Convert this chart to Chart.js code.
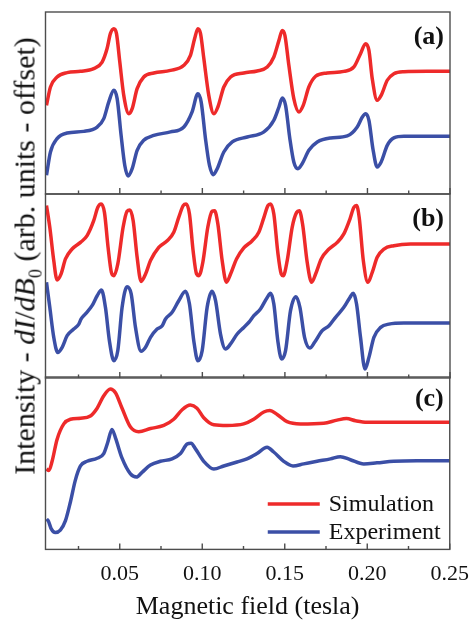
<!DOCTYPE html>
<html>
<head>
<meta charset="utf-8">
<script src="https://cdn.jsdelivr.net/npm/chart.js@4.4.0/dist/chart.umd.min.js"></script>
<style>
  body { margin: 0; background: #fff; }
  #wrap { position: relative; width: 473px; height: 622px; overflow: hidden; background: #fff; }
  canvas { position: absolute; left: 0; }
  #ylab {
    position: absolute; left: 27px; top: 256px;
    transform: translate(-50%, -50%) rotate(-90deg);
    white-space: nowrap; font: 30px "Liberation Serif", serif; color: #111;
  }
  #ylab sub { font-size: 60%; }
</style>
</head>
<body>
<div id="wrap">
  <canvas id="pa" width="473" height="200" style="top:0"></canvas>
  <canvas id="pb" width="473" height="196" style="top:188px"></canvas>
  <canvas id="pc" width="473" height="252" style="top:371px"></canvas>
  <div id="ylab">Intensity - <i>dI</i>/<i>dB</i><sub>0</sub> (arb. units - offset)</div>
</div>
<script>
// x axis (tesla)
const fieldMin = 0.005, fieldMax = 0.25;
const tickValues = [0.05, 0.10, 0.15, 0.20, 0.25];
const minorTickValues = [0.025, 0.075, 0.125, 0.175, 0.225];
const seriesNames = ['Simulation', 'Experiment'];
const seriesColors = ['#ee2a2a', '#3b4fa6'];

// panel (a)
const simA_B = [0.0056,0.0080,0.0120,0.0181,0.0262,0.0342,0.0393,0.0423,0.0443,0.0464,0.0480,0.0500,0.0524,0.0555,0.0575,0.0605,0.0645,0.0706,0.0807,0.0888,0.0928,0.0953,0.0973,0.0989,0.1009,0.1039,0.1070,0.1094,0.1130,0.1171,0.1251,0.1332,0.1393,0.1433,0.1464,0.1484,0.1500,0.1524,0.1554,0.1585,0.1611,0.1645,0.1686,0.1756,0.1857,0.1918,0.1958,0.1989,0.2009,0.2029,0.2059,0.2083,0.2120,0.2160,0.2221,0.2363,0.25];
const simA_I = [48.7,58.8,64.3,66.7,67.4,68.9,72.5,79.9,88.1,90.8,88.1,72.5,54.2,44.1,46.9,57.9,64.3,66.5,67.9,70.7,76.2,85.3,90.8,88.1,74.4,54.2,44.1,47.8,58.8,64.3,66.5,67.6,69.8,75.3,84.4,89.9,87.2,70.7,52.4,45.1,48.7,58.8,64.7,66.5,67.4,69.8,77.1,82.6,78.9,63.4,51.5,54.2,62.5,66.1,67.2,67.4,67.4];
const expA_B = [0.0056,0.0080,0.0120,0.0181,0.0282,0.0363,0.0403,0.0433,0.0464,0.0484,0.0508,0.0530,0.0550,0.0575,0.0605,0.0645,0.0706,0.0807,0.0888,0.0938,0.0973,0.0993,0.1019,0.1043,0.1066,0.1090,0.1130,0.1181,0.1272,0.1373,0.1433,0.1464,0.1484,0.1504,0.1530,0.1554,0.1579,0.1605,0.1645,0.1696,0.1777,0.1878,0.1938,0.1969,0.1989,0.2009,0.2033,0.2059,0.2083,0.2120,0.2160,0.2221,0.25];
const expA_I = [10.3,23.1,30.4,33.5,34.4,36.8,41.4,50.5,57.0,52.4,32.2,15.8,9.9,13.9,24.0,29.5,32.2,34.1,36.8,45.1,55.1,50.5,30.4,15.8,10.6,13.9,23.1,28.6,31.3,34.1,40.5,47.8,52.7,48.7,30.4,17.6,13.9,16.7,24.0,28.6,30.8,31.9,36.8,42.3,44.1,40.5,24.9,14.8,17.6,26.7,30.8,31.7,31.7];

// panel (b)
const simB_B = [0.0056,0.0076,0.0100,0.0120,0.0144,0.0171,0.0211,0.0262,0.0302,0.0342,0.0367,0.0387,0.0407,0.0429,0.0449,0.0464,0.0488,0.0520,0.0544,0.0561,0.0581,0.0605,0.0629,0.0656,0.0686,0.0736,0.0787,0.0827,0.0857,0.0884,0.0902,0.0922,0.0944,0.0965,0.0979,0.1003,0.1033,0.1059,0.1074,0.1094,0.1120,0.1146,0.1171,0.1207,0.1251,0.1302,0.1342,0.1373,0.1397,0.1413,0.1433,0.1457,0.1478,0.1490,0.1514,0.1544,0.1571,0.1587,0.1607,0.1635,0.1662,0.1686,0.1720,0.1767,0.1817,0.1857,0.1894,0.1918,0.1934,0.1950,0.1975,0.2003,0.2029,0.2059,0.2100,0.2160,0.2261,0.25];
const simB_I = [93.7,81.9,63.8,53.3,56.5,64.7,70.1,73.7,77.4,85.5,92.8,94.6,90.0,71.0,57.4,55.6,62.0,81.9,90.6,91.3,85.5,65.6,52.5,56.5,63.8,71.0,74.6,79.2,87.3,93.7,94.6,89.1,69.2,56.5,55.6,62.9,81.9,90.6,90.9,83.7,63.8,52.0,56.5,64.7,70.7,74.6,79.2,87.3,93.7,94.6,89.1,68.3,56.5,55.6,63.8,81.9,90.0,90.9,83.7,62.9,52.0,56.5,64.7,70.1,73.7,78.3,86.4,92.8,93.7,87.3,63.8,52.0,57.4,65.6,70.1,71.9,72.8,72.8];
const expB_B = [0.0056,0.0076,0.0100,0.0124,0.0151,0.0181,0.0221,0.0252,0.0266,0.0292,0.0332,0.0363,0.0389,0.0413,0.0437,0.0464,0.0488,0.0514,0.0544,0.0569,0.0595,0.0629,0.0656,0.0686,0.0726,0.0757,0.0777,0.0817,0.0857,0.0898,0.0922,0.0948,0.0973,0.0999,0.1029,0.1059,0.1080,0.1110,0.1140,0.1171,0.1211,0.1251,0.1282,0.1312,0.1352,0.1393,0.1413,0.1433,0.1457,0.1480,0.1504,0.1534,0.1567,0.1591,0.1619,0.1651,0.1680,0.1726,0.1767,0.1807,0.1857,0.1894,0.1914,0.1934,0.1958,0.1985,0.2009,0.2039,0.2080,0.2130,0.2221,0.25];
const expB_I = [52.0,38.4,22.1,13.9,16.7,23.0,26.6,29.3,32.1,34.8,39.3,44.7,47.8,38.4,20.3,9.4,14.9,38.4,49.6,45.7,27.5,14.5,16.7,22.1,26.6,28.4,32.1,35.7,42.0,47.1,40.2,20.3,9.4,14.9,38.4,47.1,42.0,23.9,15.8,18.5,23.9,27.5,30.3,33.9,37.5,43.8,46.0,40.2,20.3,10.3,14.9,36.6,44.2,38.4,22.1,16.3,19.4,25.7,28.4,33.0,38.4,43.8,46.0,40.2,22.1,4.9,11.2,22.1,27.5,29.3,29.9,29.9];

// panel (c)
const simC_B = [0.0056,0.0070,0.0090,0.0120,0.0161,0.0201,0.0262,0.0322,0.0363,0.0403,0.0443,0.0474,0.0514,0.0565,0.0615,0.0686,0.0767,0.0827,0.0878,0.0928,0.0968,0.1009,0.1070,0.1151,0.1251,0.1312,0.1373,0.1409,0.1454,0.1514,0.1595,0.1736,0.1817,0.1874,0.1929,0.1999,0.2160,0.25];
const simC_I = [46.6,45.7,51.1,63.8,72.8,75.5,76.1,77.4,81.9,89.1,93.1,90.9,81.9,71.0,68.3,70.1,71.9,75.5,81.0,83.7,81.9,76.4,72.3,71.9,72.8,75.5,79.7,80.6,78.3,74.1,72.8,73.2,75.0,75.9,74.6,73.7,73.7,73.7];
const expC_B = [0.0056,0.0068,0.0084,0.0110,0.0140,0.0171,0.0201,0.0231,0.0262,0.0302,0.0363,0.0403,0.0427,0.0453,0.0474,0.0514,0.0565,0.0601,0.0635,0.0686,0.0746,0.0817,0.0868,0.0908,0.0932,0.0959,0.1009,0.1070,0.1130,0.1211,0.1271,0.1332,0.1393,0.1433,0.1494,0.1550,0.1615,0.1696,0.1777,0.1837,0.1898,0.1979,0.2059,0.2160,0.2302,0.25];
const expC_I = [17.6,16.3,12.1,9.8,11.2,16.7,27.5,40.2,48.4,51.1,52.9,55.6,62.0,69.6,64.7,52.9,43.8,42.0,44.7,48.9,51.1,52.5,55.6,61.1,61.6,58.3,51.1,46.6,48.4,50.7,52.5,55.6,59.2,56.5,51.1,48.4,49.6,51.1,52.5,53.8,52.0,49.6,50.2,51.1,51.4,51.4];

const serif = '"Liberation Serif", "Times New Roman", serif';

function pts(xs, ys) {
  const out = [];
  for (let i = 0; i < Math.min(xs.length, ys.length); i++) out.push({ x: xs[i], y: ys[i] });
  return out;
}

// frame, inward ticks, panel letter and (optionally) the legend
const panelDeco = {
  id: 'panelDeco',
  afterDatasetsDraw(chart, args, opts) {
    const { ctx, chartArea: a } = chart;
    const x = chart.scales.x;
    ctx.save();
    ctx.strokeStyle = '#4d4d4d';
    ctx.lineWidth = 1.4;
    ctx.strokeRect(a.left, a.top, a.right - a.left, a.bottom - a.top);
    ctx.beginPath();
    tickValues.forEach(v => {
      const px = x.getPixelForValue(v);
      ctx.moveTo(px, a.bottom); ctx.lineTo(px, a.bottom - 6);
    });
    minorTickValues.forEach(v => {
      const px = x.getPixelForValue(v);
      ctx.moveTo(px, a.bottom); ctx.lineTo(px, a.bottom - 3.5);
    });
    ctx.stroke();

    ctx.fillStyle = '#111';
    ctx.font = 'bold 26px ' + serif;
    ctx.textAlign = 'right';
    ctx.textBaseline = 'middle';
    ctx.fillText(opts.label, a.right - 6, a.top + opts.labelY);

    if (opts.legend) {
      ctx.font = '24px ' + serif;
      ctx.textAlign = 'left';
      chart.data.datasets.forEach((ds, i) => {
        const y = a.top + 127 + i * 28;
        ctx.strokeStyle = ds.borderColor;
        ctx.lineWidth = 3.5;
        ctx.beginPath();
        ctx.moveTo(a.right - 182, y); ctx.lineTo(a.right - 130, y);
        ctx.stroke();
        ctx.fillText(ds.label, a.right - 121, y + 1);
      });
    }
    ctx.restore();
  }
};
Chart.register(panelDeco);

function makePanel(id, sim, exp, deco, pad, showAxis) {
  return new Chart(document.getElementById(id), {
    type: 'line',
    data: {
      datasets: [
        { label: seriesNames[0], data: sim, borderColor: seriesColors[0] },
        { label: seriesNames[1], data: exp, borderColor: seriesColors[1] }
      ]
    },
    options: {
      responsive: false,
      animation: false,
      layout: { padding: pad },
      elements: {
        point: { radius: 0 },
        line: { borderWidth: 3.5, cubicInterpolationMode: 'monotone', fill: false }
      },
      scales: {
        x: {
          type: 'linear', min: fieldMin, max: fieldMax,
          display: showAxis,
          afterBuildTicks: s => { s.ticks = tickValues.map(v => ({ value: v })); },
          grid: { display: false },
          border: { display: false },
          ticks: {
            autoSkip: false, maxRotation: 0, padding: 4, color: '#111',
            font: { family: serif, size: 22 },
            callback: v => v.toFixed(2)
          },
          title: {
            display: true, text: 'Magnetic field (tesla)', color: '#111',
            font: { family: serif, size: 26 }, padding: 0
          }
        },
        y: { min: 0, max: 100, display: false }
      },
      plugins: {
        legend: { display: false },
        tooltip: { enabled: false },
        panelDeco: deco
      }
    }
  });
}

makePanel('pa', pts(simA_B, simA_I), pts(expA_B, expA_I),
  { label: '(a)', labelY: 25, legend: false },
  { left: 45.5, right: 23, top: 12, bottom: 6 }, false);
makePanel('pb', pts(simB_B, simB_I), pts(expB_B, expB_I),
  { label: '(b)', labelY: 25, legend: false },
  { left: 45.5, right: 23, top: 6, bottom: 6 }, false);
makePanel('pc', pts(simC_B, simC_I), pts(expC_B, expC_I),
  { label: '(c)', labelY: 22, legend: true },
  { left: 45.5, right: 23, top: 6, bottom: 0 }, true);
</script>
</body>
</html>
